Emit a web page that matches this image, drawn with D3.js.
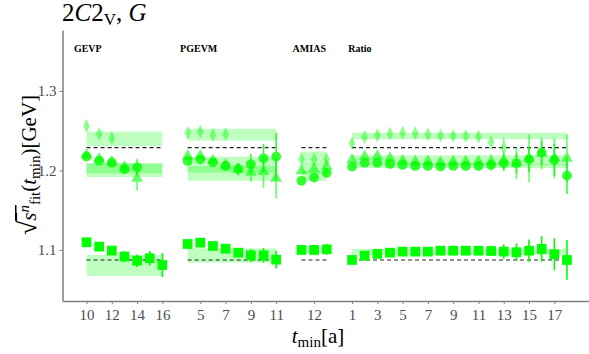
<!DOCTYPE html>
<html>
<head>
<meta charset="utf-8">
<script src="https://cdn.jsdelivr.net/npm/d3@7"></script>
<style>
  body { margin: 0; background: #fff; }
  text { font-family: "Liberation Serif", serif; }
</style>
</head>
<body>
<svg></svg>
<script>
// Panels and their t_min values
const panels = ["GEVP", "PGEVM", "AMIAS", "Ratio"];
const panelTmin = [
    [10, 11, 12, 13, 14, 15, 16],
    [4, 5, 6, 7, 8, 9, 10, 11],
    [11, 12, 13],
    [1, 2, 3, 4, 5, 6, 7, 8, 9, 10, 11, 12, 13, 14, 15, 16, 17, 18]
];
const panelTicks = [
    [10, 12, 14, 16],
    [5, 7, 9, 11],
    [12],
    [1, 3, 5, 7, 9, 11, 13, 15, 17]
];

// state n=0 (squares)
const state0 = [
    [1.1097, 1.1042, 1.0992, 1.0917, 1.0866, 1.0896, 1.0811],
    [1.1075, 1.1092, 1.1050, 1.1016, 1.0966, 1.0933, 1.0933, 1.0878],
    [1.1000, 1.1000, 1.1008],
    [1.0874, 1.0928, 1.0950, 1.0966, 1.0979, 1.0979, 1.0979, 1.0991, 1.0991,
     1.0991, 1.0991, 1.0987, 1.0979, 1.0971, 1.0991, 1.1013, 1.0946, 1.0874]
];
const state0Err = [
    [0.002, 0.002, 0.003, 0.007, 0.008, 0.009, 0.015],
    [0.002, 0.002, 0.002, 0.004, 0.005, 0.008, 0.009, 0.011],
    [0.002, 0.003, 0.007],
    [0.002, 0.002, 0.002, 0.002, 0.002, 0.002, 0.002, 0.002, 0.002,
     0.003, 0.004, 0.006, 0.009, 0.011, 0.014, 0.016, 0.020, 0.025]
];
// state n=1 (circles)
const state1 = [
    [1.2174, 1.2123, 1.2098, 1.2019, 1.2040, null, null],
    [1.2120, 1.2140, 1.2103, 1.2057, 1.2019, 1.2078, 1.2153, 1.2174],
    [1.1870, 1.1910, 1.1970],
    [1.2048, 1.2098, 1.2098, 1.2082, 1.2069, 1.2057, 1.2057, 1.2048, 1.2057,
     1.2057, 1.2057, 1.2069, 1.2090, 1.2090, 1.2140, 1.2224, 1.2132, 1.1935]
];
const state1Err = [
    [0.003, 0.003, 0.004, 0.006, 0.010, null, null],
    [0.003, 0.003, 0.004, 0.005, 0.007, 0.013, 0.018, 0.030],
    [0.004, 0.005, 0.006],
    [0.002, 0.002, 0.002, 0.002, 0.003, 0.003, 0.003, 0.004, 0.004,
     0.005, 0.006, 0.007, 0.009, 0.012, 0.016, 0.015, 0.020, 0.023]
];
// state n=2 (triangles)
const state2 = [
    [1.2195, 1.2145, 1.2110, 1.2040, 1.1900, null, null],
    [1.2180, 1.2180, 1.2123, 1.2070, 1.2015, 1.1977, 1.1985, 1.1900],
    [1.1994, 1.2019, 1.2048],
    [1.2132, 1.2174, 1.2182, 1.2153, 1.2123, 1.2111, 1.2111, 1.2103, 1.2111,
     1.2111, 1.2111, 1.2111, 1.2123, 1.2090, 1.2153, 1.2215, 1.2153, 1.2153]
];
const state2Err = [
    [0.003, 0.004, 0.005, 0.008, 0.015, null, null],
    [0.004, 0.004, 0.005, 0.006, 0.008, 0.012, 0.020, 0.025],
    [0.004, 0.005, 0.008],
    [0.003, 0.003, 0.003, 0.003, 0.004, 0.004, 0.004, 0.005, 0.005,
     0.006, 0.007, 0.009, 0.012, 0.020, 0.030, 0.020, 0.025, 0.030]
];
// state n=3 (diamonds)
const state3 = [
    [1.2560, 1.2460, 1.2405, null, null, null, null],
    [1.2476, 1.2488, 1.2447, 1.2455, null, null, null, null],
    [1.2140, 1.2140, 1.2140],
    [1.2342, 1.2418, 1.2443, 1.2463, 1.2476, 1.2468, 1.2455, 1.2438, 1.2434,
     1.2434, 1.2425, 1.2355, 1.2292, null, null, null, null, null]
];
const state3Err = [
    [0.003, 0.004, 0.006, null, null, null, null],
    [0.003, 0.004, 0.004, 0.006, null, null, null, null],
    [0.003, 0.003, 0.004],
    [0.002, 0.002, 0.002, 0.003, 0.003, 0.003, 0.003, 0.004, 0.004,
     0.005, 0.005, 0.008, 0.012, null, null, null, null, null]
];

// fit bands per panel: [n=0, n=1, n=2, n=3]
const bandMid = [
    [1.0805, 1.2028, 1.2002, 1.2398],
    [1.0930, 1.2073, 1.1964, 1.2450],
    [1.1003, 1.1930, 1.2020, 1.2155],
    [1.0975, 1.2057, 1.2130, 1.2434]
];
const bandHalf = [
    [0.0132, 0.0065, 0.0085, 0.0090],
    [0.0090, 0.0100, 0.0092, 0.0074],
    [0.0040, 0.0060, 0.0060, 0.0084],
    [0.0040, 0.0025, 0.0060, 0.0042]
];
// reference energies (dashed)
const refLines = [1.0874, 1.2287];

const W = 589, H = 354;
const svg = d3.select("svg").attr("width", W).attr("height", H);

// index positions: panels laid side by side with one empty slot between
const offsets = [];
let acc = 0;
panelTmin.forEach(t => { offsets.push(acc); acc += t.length + 1; });
const idx = (p, t) => offsets[p] + (t - panelTmin[p][0]);
const lastIdx = offsets[3] + panelTmin[3].length - 1;

const x = d3.scaleLinear().domain([-1.9, lastIdx + 1.9]).range([62.5, 591]);
const y = d3.scaleLinear().domain([1.0358, 1.3767]).range([301, 30]);

const green = "#00ff00";
const grey = "#7f7f7f";

// bands
const bandG = svg.append("g");
panels.forEach((p, pi) => {
    const x0 = x(idx(pi, panelTmin[pi][0]));
    const x1 = x(idx(pi, panelTmin[pi][panelTmin[pi].length - 1]));
    bandMid[pi].forEach((m, s) => {
        bandG.append("rect")
            .attr("x", x0)
            .attr("width", x1 - x0)
            .attr("y", y(m + bandHalf[pi][s]))
            .attr("height", y(m - bandHalf[pi][s]) - y(m + bandHalf[pi][s]))
            .attr("fill", green)
            .attr("fill-opacity", 0.25);
    });
    refLines.forEach(r => {
        bandG.append("line")
            .attr("x1", x0).attr("x2", x1)
            .attr("y1", y(r)).attr("y2", y(r))
            .attr("stroke", "#222")
            .attr("stroke-width", 1.1)
            .attr("stroke-dasharray", "4,3");
    });
});

// points
const states = [
    {vals: state3, errs: state3Err, sym: d3.symbolDiamond, size: 55, op: 0.45, sx: 0.8},
    {vals: state2, errs: state2Err, sym: d3.symbolTriangle, size: 60, op: 0.6, sx: 1},
    {vals: state1, errs: state1Err, sym: d3.symbolCircle, size: 75, op: 0.8, sx: 1},
    {vals: state0, errs: state0Err, sym: d3.symbolSquare, size: 95, op: 1, sx: 1}
];
const ptG = svg.append("g");
states.forEach(st => {
    const pts = [];
    panels.forEach((p, pi) => {
        panelTmin[pi].forEach((t, k) => {
            const v = st.vals[pi][k];
            if (v != null) pts.push({xi: idx(pi, t), v: v, e: st.errs[pi][k]});
        });
    });
    const g = ptG.append("g").attr("opacity", st.op);
    g.selectAll("line")
        .data(pts)
        .join("line")
        .attr("x1", d => x(d.xi)).attr("x2", d => x(d.xi))
        .attr("y1", d => y(d.v - d.e)).attr("y2", d => y(d.v + d.e))
        .attr("stroke", green)
        .attr("stroke-width", 1.6);
    g.selectAll("path")
        .data(pts)
        .join("path")
        .attr("transform", d => `translate(${x(d.xi)},${y(d.v)}) scale(${st.sx},1)`)
        .attr("d", d3.symbol().type(st.sym).size(st.size))
        .attr("fill", green);
});

// axes
const tickIdx = [], tickLab = [];
panelTicks.forEach((ts, pi) => ts.forEach(t => { tickIdx.push(idx(pi, t)); tickLab.push(t); }));

const xAxis = svg.append("g")
    .attr("transform", "translate(0,301)")
    .call(d3.axisBottom(x).tickValues(tickIdx).tickSize(3).tickSizeOuter(0)
        .tickFormat((d, i) => tickLab[i]));
xAxis.selectAll("text").attr("fill", "#4d4d4d").style("font-size", "15px").attr("dy", "0.85em");

const yAxis = svg.append("g")
    .attr("transform", "translate(62.5,0)")
    .call(d3.axisLeft(y).tickValues([1.1, 1.2, 1.3]).tickSize(3).tickSizeOuter(0)
        .tickFormat(d3.format(".1f")));
yAxis.selectAll("text").attr("fill", "#4d4d4d").style("font-size", "15px");

[xAxis, yAxis].forEach(a => {
    a.select(".domain").attr("stroke", grey).attr("stroke-width", 1.5);
    a.selectAll(".tick line").attr("stroke", grey);
});

// panel labels
const labelPos = [-1, 7.4, 16.3, 20.7];
panels.forEach((p, pi) => {
    svg.append("text")
        .attr("x", x(labelPos[pi]))
        .attr("y", 52)
        .style("font-size", "10px")
        .style("font-weight", "bold")
        .text(p);
});

// title
const title = svg.append("text").attr("x", 62).attr("y", 21).style("font-size", "25px");
title.append("tspan").text("2");
title.append("tspan").style("font-style", "italic").text("C");
title.append("tspan").text("2");
title.append("tspan").attr("dy", 4).style("font-size", "17px").text("V");
title.append("tspan").attr("dy", -4).text(", ");
title.append("tspan").style("font-style", "italic").text("G");

// x label
const xl = svg.append("text")
    .attr("x", 318).attr("y", 343)
    .attr("text-anchor", "middle")
    .style("font-size", "21px");
xl.append("tspan").style("font-style", "italic").text("t");
xl.append("tspan").attr("dy", 4).style("font-size", "15px").text("min");
xl.append("tspan").attr("dy", -4).text("[a]");

// y label
const yl = svg.append("text")
    .attr("transform", "translate(36,165) rotate(-90)")
    .attr("text-anchor", "middle")
    .style("font-size", "21px");
yl.append("tspan").style("font-size", "26px").text("√");
yl.append("tspan").style("font-style", "italic").style("text-decoration", "overline").text("s");
yl.append("tspan").attr("dy", -7).style("font-size", "15px").style("font-style", "italic")
    .style("text-decoration", "overline").text("n");
yl.append("tspan").attr("dy", 11).style("font-size", "15px").text("fit");
yl.append("tspan").attr("dy", -4).text("(");
yl.append("tspan").style("font-style", "italic").text("t");
yl.append("tspan").attr("dy", 4).style("font-size", "15px").text("min");
yl.append("tspan").attr("dy", -4).text(")[GeV]");
</script>
</body>
</html>
